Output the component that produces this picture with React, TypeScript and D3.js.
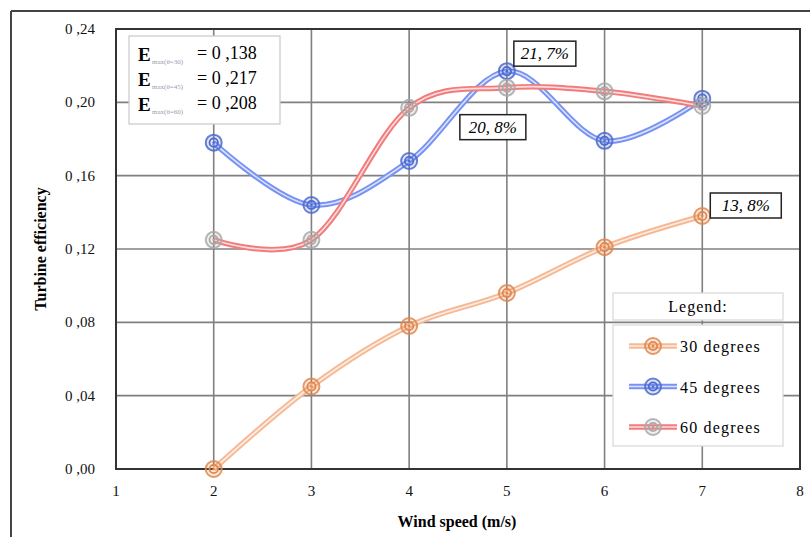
import React from "react";
import * as d3 from "d3";

const windSpeeds = [2, 3, 4, 5, 6, 7];
const eff30 = [0.0, 0.045, 0.078, 0.096, 0.121, 0.138];
const eff45 = [0.178, 0.144, 0.168, 0.217, 0.179, 0.202];
const eff60 = [0.125, 0.125, 0.197, 0.208, 0.206, 0.198];
const xTicks = [1, 2, 3, 4, 5, 6, 7, 8];
const yTicks = [0, 0.04, 0.08, 0.12, 0.16, 0.2, 0.24];
const seriesNames = ["30 degrees", "45 degrees", "60 degrees"];
const maxLabels = ["30", "45", "60"];
const maxValues = ["0 ,138", "0 ,217", "0 ,208"];

const W = 810;
const H = 537;
const margin = { top: 29, right: 10, bottom: 68, left: 116 };
const serif = "Liberation Serif, Times New Roman, DejaVu Serif, serif";

const series = [
  { name: seriesNames[0], values: eff30, line: "#f6b995", marker: "#e0874c" },
  { name: seriesNames[1], values: eff45, line: "#7893f2", marker: "#4d6bcc" },
  { name: seriesNames[2], values: eff60, line: "#f27c7c", marker: "#a9a9a9" },
];

const fmt = (v: number) => "0 ," + v.toFixed(2).split(".")[1];

const Marker = ({ cx, cy, color }: { cx: number; cy: number; color: string }) => (
  <g>
    <circle cx={cx} cy={cy} r={8} fill={color} fillOpacity={0.18} stroke={color} strokeWidth={2} strokeOpacity={0.85} />
    <circle cx={cx} cy={cy} r={4.2} fill="none" stroke={color} strokeWidth={1.8} />
    <circle cx={cx} cy={cy} r={1.3} fill={color} />
  </g>
);

const Series = ({ d, path }: { d: typeof series[0]; path: string }) => (
  <g>
    <path d={path} fill="none" stroke={d.line} strokeWidth={5.5} />
    <path d={path} fill="none" stroke="#ffffff" strokeWidth={1.6} strokeOpacity={0.75} />
  </g>
);

export default function App() {
  const x = d3.scaleLinear().domain([1, 8]).range([margin.left, W - margin.right]);
  const y = d3.scaleLinear().domain([0, 0.24]).range([H - margin.bottom, margin.top]);
  const line = d3
    .line<number>()
    .x((_, i) => x(windSpeeds[i]))
    .y((v) => y(v))
    .curve(d3.curveCardinal.tension(0));

  const [x0, x1] = x.range();
  const [y0, y1] = y.range();

  const valueLabels = [
    { t: "21, 7%", i: 3, s: eff45, dx: 7, dy: -30, w: 62 },
    { t: "20, 8%", i: 3, s: eff60, dx: -47, dy: 27, w: 66 },
    { t: "13, 8%", i: 5, s: eff30, dx: 8, dy: -23, w: 71 },
  ];

  return (
    <svg width={W} height={H} style={{ position: "absolute", left: 0, top: 0, background: "#fff" }}>
      {/* outer frame */}
      <line x1={11} y1={11} x2={W} y2={11} stroke="#444" strokeWidth={2} />
      <line x1={11} y1={11} x2={11} y2={H} stroke="#444" strokeWidth={2} />

      {/* grid */}
      {xTicks.slice(1, -1).map((t) => (
        <line key={"gx" + t} x1={x(t)} x2={x(t)} y1={y1} y2={y0} stroke="#808080" strokeWidth={1.6} />
      ))}
      {yTicks.slice(1, -1).map((t) => (
        <line key={"gy" + t} x1={x0} x2={x1} y1={y(t)} y2={y(t)} stroke="#808080" strokeWidth={1.6} />
      ))}
      <rect x={x0} y={y1} width={x1 - x0} height={y0 - y1} fill="none" stroke="#333" strokeWidth={2} />

      {/* tick labels */}
      {yTicks.map((t) => (
        <text key={"ty" + t} x={95} y={y(t) + 5} textAnchor="end" fontFamily={serif} fontSize={15} fill="#111">
          {fmt(t)}
        </text>
      ))}
      {xTicks.map((t) => (
        <text key={"tx" + t} x={x(t)} y={496} textAnchor="middle" fontFamily={serif} fontSize={15} fill="#111">
          {t}
        </text>
      ))}

      {/* axis titles */}
      <text x={W / 2 + 52} y={527} textAnchor="middle" fontFamily={serif} fontWeight="bold" fontSize={16}>
        Wind speed (m/s)
      </text>
      <text
        transform={`translate(46, ${(y0 + y1) / 2}) rotate(-90)`}
        textAnchor="middle"
        fontFamily={serif}
        fontWeight="bold"
        fontSize={16}
      >
        Turbine efficiency
      </text>

      {/* series */}
      {series.map((s) => (
        <Series key={s.name} d={s} path={line(s.values) || ""} />
      ))}
      {series.map((s) =>
        s.values.map((v, i) => <Marker key={s.name + i} cx={x(windSpeeds[i])} cy={y(v)} color={s.marker} />)
      )}

      {/* max box */}
      <rect x={129} y={36} width={151} height={88} fill="#fff" stroke="#c8c8c8" strokeWidth={1.2} />
      {maxLabels.map((m, i) => (
        <g key={m}>
          <text x={138} y={61 + i * 25} fontFamily={serif} fontWeight="bold" fontSize={19}>
            E
          </text>
          <text x={152} y={64 + i * 25} fontFamily={serif} fontSize={7} fill="#9a9ab0">
            max(θ={m})
          </text>
          <text x={197} y={59 + i * 25} fontFamily={serif} fontSize={18}>
            = {maxValues[i]}
          </text>
        </g>
      ))}

      {/* value labels */}
      {valueLabels.map((l) => {
        const bx = x(windSpeeds[l.i]) + l.dx;
        const by = y(l.s[l.i]) + l.dy;
        return (
          <g key={l.t}>
            <rect x={bx} y={by} width={l.w} height={25} fill="#fff" stroke="#222" strokeWidth={1.5} />
            <text x={bx + l.w / 2} y={by + 18} textAnchor="middle" fontFamily={serif} fontStyle="italic" fontSize={17}>
              {l.t}
            </text>
          </g>
        );
      })}

      {/* legend */}
      <rect x={613} y={293} width={170} height={27} fill="#fff" stroke="#d8d8d8" strokeWidth={1.2} />
      <text x={698} y={312} textAnchor="middle" fontFamily={serif} fontSize={16} letterSpacing={1}>
        Legend:
      </text>
      <rect x={613} y={325} width={170} height={121} fill="#fff" stroke="#d8d8d8" strokeWidth={1.2} />
      {series.map((s, i) => {
        const ly = 346 + i * 40.5;
        const p = `M629,${ly}L677,${ly}`;
        return (
          <g key={"lg" + s.name}>
            <Series d={s} path={p} />
            <Marker cx={653} cy={ly} color={s.marker} />
            <text x={680} y={ly + 6} fontFamily={serif} fontSize={16} letterSpacing={1.2}>
              {s.name}
            </text>
          </g>
        );
      })}
    </svg>
  );
}
